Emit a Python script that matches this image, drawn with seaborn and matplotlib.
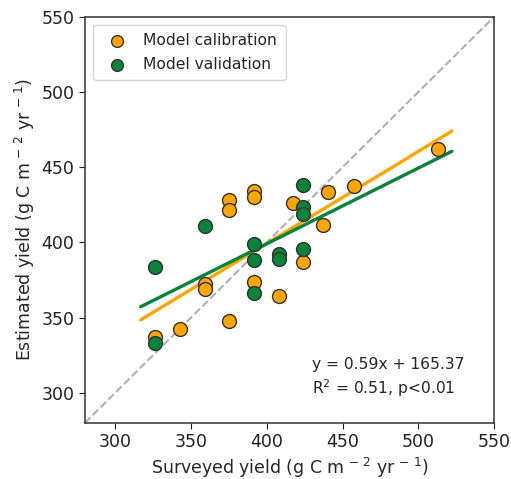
import numpy as np
import pandas as pd
import matplotlib
matplotlib.use("Agg")
import matplotlib.pyplot as plt
import seaborn as sns

# surveyed vs estimated yield (g C m-2 yr-1)
cal_surveyed = [512.8, 457.3, 440.7, 437.0, 417.6, 424.2, 391.6, 391.6, 375.1, 375.1,
                391.6, 408.4, 359.3, 359.3, 375.1, 342.7, 326.2]
cal_estimated = [462.0, 437.7, 433.3, 411.8, 426.2, 387.3, 434.4, 430.2, 428.4, 421.8,
                 373.4, 364.5, 372.5, 368.9, 347.8, 342.3, 337.0]

val_surveyed = [326.2, 359.3, 391.6, 391.6, 391.6, 408.4, 408.4, 424.2, 424.2, 424.2,
                424.2, 326.2]
val_estimated = [383.6, 410.7, 398.9, 388.0, 366.7, 392.5, 388.9, 437.9, 423.5, 419.1,
                 395.6, 333.4]

ticks = [300, 350, 400, 450, 500, 550]

ORANGE = "#FFA500"
GREEN = "#05843A"

sns.set_style("ticks")
plt.rcParams['font.family'] = ['DejaVu Sans']

cal = pd.DataFrame({'surveyed': cal_surveyed, 'estimated': cal_estimated})
val = pd.DataFrame({'surveyed': val_surveyed, 'estimated': val_estimated})

fig = plt.figure(figsize=(5.11, 4.79), dpi=100)
ax = fig.add_axes([0.166, 0.117, 0.801, 0.848])

sns.scatterplot(data=cal, x='surveyed', y='estimated', ax=ax, color=ORANGE, s=100,
                edgecolor='#333333', linewidth=1, label='Model calibration', zorder=3)
sns.scatterplot(data=val, x='surveyed', y='estimated', ax=ax, color=GREEN, s=100,
                edgecolor='#333333', linewidth=1, label='Model validation', zorder=3)

# fit lines span the auto x-limits of the data
sns.regplot(data=cal, x='surveyed', y='estimated', ax=ax, scatter=False, ci=None,
            truncate=False, color=ORANGE, line_kws={'lw': 2.4, 'zorder': 2})
sns.regplot(data=val, x='surveyed', y='estimated', ax=ax, scatter=False, ci=None,
            truncate=False, color=GREEN, line_kws={'lw': 2.4, 'zorder': 2})

ax.plot([280, 550], [280, 550], ls='--', color='#b0b0b0', lw=1.5, zorder=1)

ax.set_xlim(280, 550)
ax.set_ylim(280, 550)
ax.set_xticks(ticks)
ax.set_yticks(ticks)
ax.tick_params(labelsize=12.5, colors='#222222', length=4)
for sp in ax.spines.values():
    sp.set_color('#333333')
    sp.set_linewidth(1.1)

unit = r'(g C m$^{\,-\,2}$ yr$^{\,-\,1}$)'
ax.set_xlabel('Surveyed yield ' + unit, fontsize=12.5, labelpad=3)
ax.set_ylabel('Estimated yield ' + unit, fontsize=12.5, labelpad=3)

ax.text(430, 310, 'y = 0.59x + 165.37\nR$^2$ = 0.51, p<0.01', fontsize=11.2,
        va='center', ha='left', linespacing=1.3)

leg = ax.legend(loc='upper left', fontsize=11.2, handletextpad=0.7, markerscale=0.85,
                borderpad=0.55, labelspacing=0.55)
leg.get_frame().set_edgecolor('#cccccc')

fig.savefig('out.png', dpi=100)
